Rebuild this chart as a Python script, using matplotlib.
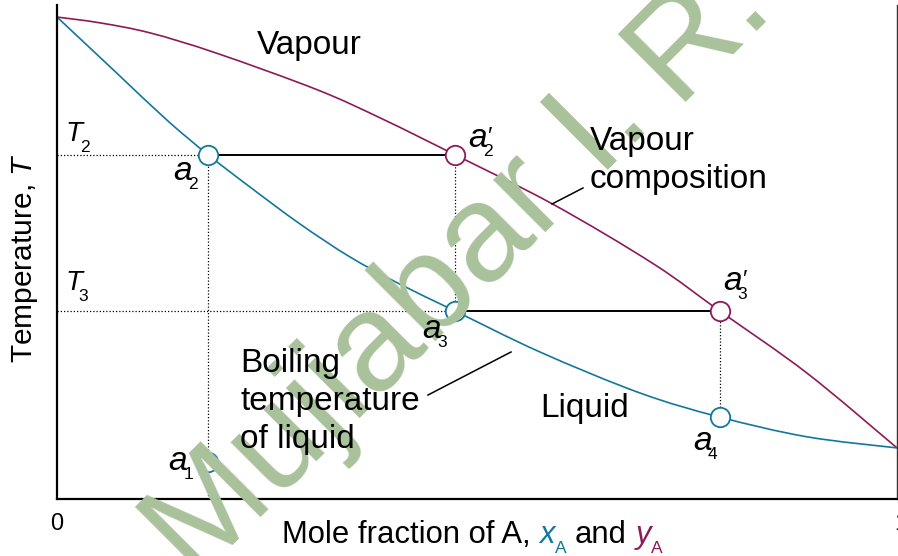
import matplotlib
matplotlib.use('Agg')
import matplotlib.pyplot as plt
from matplotlib.transforms import offset_copy, ScaledTranslation
from matplotlib.lines import Line2D
from matplotlib.path import Path
from matplotlib.patches import PathPatch

plt.rcParams['font.family'] = ['Liberation Sans', 'DejaVu Sans']
plt.rcParams['mathtext.fontset'] = 'custom'
plt.rcParams['mathtext.rm'] = 'Liberation Sans'
plt.rcParams['mathtext.it'] = 'Liberation Sans:italic'

# ---------------- data (T in arbitrary units) ----------
vap_x = [0.0, 0.051, 0.111, 0.190, 0.310, 0.388, 0.474, 0.590, 0.710, 0.789, 0.893, 1.0]
vap_T = [100.0, 98.8, 96.7, 92.5, 84.9, 78.8, 71.4, 61.2, 48.8, 39.0, 26.1, 10.6]
liq_x = [0.0, 0.071, 0.131, 0.180, 0.230, 0.289, 0.349, 0.408, 0.474, 0.575,
         0.694, 0.789, 0.893, 1.0]
liq_T = [100.0, 88.4, 78.6, 71.4, 64.7, 57.1, 50.2, 44.6, 39.0, 30.5,
         22.0, 17.0, 12.9, 10.6]

x_a2 = 0.180      # composition of a1 / a2
x_a3 = 0.474      # composition of a2' / a3
x_a3p = 0.789     # composition of a3' / a4
T2 = 71.4
T3 = 39.0
T_a1 = 7.7
T_a4 = 17.0
x_ticks = [0, 1]
x_ticklabels = ['0', '1']

BLUE = '#12789a'
PURPLE = '#8c1a5b'
W, H = 898, 556

fig = plt.figure(figsize=(W / 100, H / 100), dpi=100)
ax = fig.add_axes([57 / W, 57 / H, 840 / W, 494 / H])
ax.set_xlim(0, 1)
ax.set_ylim(0, 102.5)

def F(px, py):
    return (px / W, 1 - py / H)

def smooth_curve(xs, ys, color):
    """Smooth (Catmull-Rom style Bezier) curve through the given points."""
    pts = list(zip(xs, ys))
    n = len(pts)
    verts = [pts[0]]
    codes = [Path.MOVETO]
    for i in range(n - 1):
        p0 = pts[max(i - 1, 0)]
        p1 = pts[i]
        p2 = pts[i + 1]
        p3 = pts[min(i + 2, n - 1)]
        c1 = (p1[0] + (p2[0] - p0[0]) / 6, p1[1] + (p2[1] - p0[1]) / 6)
        c2 = (p2[0] - (p3[0] - p1[0]) / 6, p2[1] - (p3[1] - p1[1]) / 6)
        verts += [c1, c2, p2]
        codes += [Path.CURVE4] * 3
    ax.add_patch(PathPatch(Path(verts, codes), facecolor='none', edgecolor=color,
                           lw=1.2, zorder=2, clip_on=False))

smooth_curve(vap_x, vap_T, PURPLE)
smooth_curve(liq_x, liq_T, BLUE)

# dotted guide lines
dot = dict(color='black', lw=0.9, linestyle=(0, (1, 1.6)), zorder=1.5)
ax.plot([0, x_a2], [T2, T2], **dot)
ax.plot([0, x_a3], [T3, T3], **dot)
ax.plot([x_a2, x_a2], [0, T2], **dot)
ax.plot([x_a3, x_a3], [T3, T2], **dot)
ax.plot([x_a3p, x_a3p], [T_a4, T3], **dot)

# tie lines
ax.plot([x_a2, x_a3], [T2, T2], color='black', lw=1.4, zorder=1.8)
ax.plot([x_a3, x_a3p], [T3, T3], color='black', lw=1.4, zorder=1.8)

# points
mk = dict(marker='o', markersize=14, markerfacecolor='white', markeredgewidth=1.3,
          linestyle='none', zorder=3, clip_on=False)
ax.plot([x_a2, x_a2, x_a3, x_a3p], [T_a1, T2, T3, T_a4], markeredgecolor=BLUE, **mk)
ax.plot([x_a3, x_a3p], [T2, T3], markeredgecolor=PURPLE, **mk)

# spines / ticks
for s in ['left', 'bottom']:
    ax.spines[s].set_linewidth(1.6)
ax.spines['top'].set_visible(False)
ax.spines['right'].set_linewidth(1.0)
ax.spines['right'].set_color('#333333')
ax.set_yticks([])
ax.set_xticks(x_ticks)
ax.set_xticklabels(x_ticklabels)
ax.tick_params(axis='x', length=0, pad=10, labelsize=17)
last = ax.get_xticklabels()[-1]
last.set_transform(last.get_transform() + ScaledTranslation(0.04, 0, fig.dpi_scale_trans))

# point labels
def lab(x, y, dx, dy, s, size, style='italic', va='baseline'):
    tr = offset_copy(ax.transData, fig=fig, x=dx, y=-dy, units='dots')
    ax.text(x, y, s, transform=tr, fontsize=size, style=style, ha='left', va=va,
            zorder=6, clip_on=False)

MAIN, SUB = 24, 12.5
labels = [
    (x_a2, T_a1, -40, 8, '1', False),
    (x_a2, T2, -35, 25, '2', False),
    (x_a3, T2, 13, -8, '2', True),
    (x_a3, T3, -33, 27, '3', False),
    (x_a3p, T3, 3, -21, '3', True),
    (x_a3p, T_a4, -27, 33, '4', False),
]
for x, y, dx, dy, sub, prime in labels:
    lab(x, y, dx, dy, 'a', MAIN)
    lab(x, y, dx + 15, dy + 9, sub, SUB, style='normal')
    if prime:
        lab(x, y, dx + 19, dy - 20, '\u2032', 17, style='normal', va='top')

lab(0, T2, 8, -14, 'T', 20)
lab(0, T2, 23, -3, '2', SUB, style='normal')
lab(0, T3, 8, -21, 'T', 20)
lab(0, T3, 21, -10, '3', SUB, style='normal')

# region / curve labels
def ftext(px, py, s, **kw):
    fig.text(*F(px, py), s, ha='left', va='baseline', fontsize=MAIN, zorder=6, **kw)

ftext(257, 54, 'Vapour')
ftext(590, 150, 'Vapour')
ftext(590, 188, 'composition')
ftext(240, 372, 'Boiling')
ftext(240, 410, 'temperature')
ftext(240, 448, 'of liquid')
ftext(540, 417, 'Liquid')

for (p0, p1) in [((552, 204), (583, 188)), ((428, 395), (511, 352))]:
    fig.add_artist(Line2D([F(*p0)[0], F(*p1)[0]], [F(*p0)[1], F(*p1)[1]],
                          transform=fig.transFigure, color='black', lw=1.1))

# axis labels
fig.text(*F(25, 258), 'Temperature, $\\mathit{T}$', rotation=90, ha='center',
         va='center', fontsize=21.5)

renderer = fig.canvas.get_renderer()
XS = 22.3
space = 0.278 * XS * 100 / 72
pieces = [
    ('Mole fraction of A,', dict(color='black'), 0, space),
    ('x', dict(color=BLUE, style='italic'), 0, 0),
    ('A', dict(color=BLUE, fontsize=SUB), 10, space),
    ('and', dict(color='black'), 0, space),
    ('y', dict(color=PURPLE, style='italic'), 0, 0),
    ('A', dict(color=PURPLE, fontsize=SUB), 10, 0),
]
cx = 282
for s, kw, drop, gap in pieces:
    kw = dict(kw)
    fs = kw.pop('fontsize', XS)
    t = fig.text(*F(cx, 543 + drop), s, ha='left', va='baseline', fontsize=fs, **kw)
    cx += t.get_window_extent(renderer).width + gap

# watermark (two pieces so the spacing matches the original)
wm = dict(transform=fig.transFigure, rotation=45, rotation_mode='anchor', ha='right',
          va='baseline', fontsize=100, color='#a9c29b', family='Liberation Sans',
          zorder=4, clip_on=False)
ax.text(*F(654, 124), 'Mujiabar I.', **wm)
ax.text(*F(773, 4), 'R.', **wm)

fig.savefig('out.png', dpi=100)
